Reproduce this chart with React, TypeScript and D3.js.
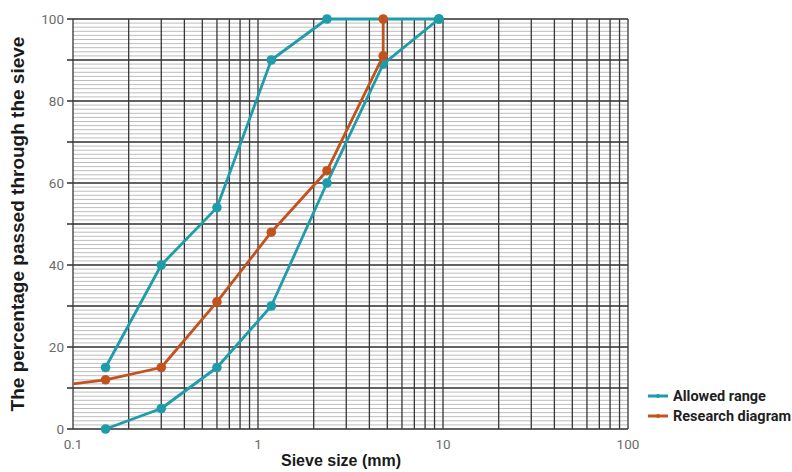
import React, { useEffect, useRef } from 'react';
import * as d3 from 'd3';

// sieve sizes (mm) and percentages passed
const upperSizes = [0.15, 0.3, 0.6, 1.18, 2.36, 9.5];
const upperPassed = [15, 40, 54, 90, 100, 100];
const lowerSizes = [0.15, 0.3, 0.6, 1.18, 2.36, 4.75, 9.5];
const lowerPassed = [0, 5, 15, 30, 60, 89, 100];
const researchSizes = [0.1, 0.15, 0.3, 0.6, 1.18, 2.36, 4.75, 4.75];
const researchPassed = [11, 12, 15, 31, 48, 63, 91, 100];
const researchMarked = [false, true, true, true, true, true, true, true];

const xTickLabels = [0.1, 1, 10, 100];
const yTickLabels = [0, 20, 40, 60, 80, 100];
const legendLabels = ['Allowed range', 'Research diagram'];

const TEAL = '#1e9caa';
const RUST = '#c2521e';

const W = 792;
const H = 472;

export default function App() {
  const svgRef = useRef<SVGSVGElement>(null);

  useEffect(() => {
    if (!svgRef.current) return;
    const svg = d3.select(svgRef.current);
    svg.selectAll('*').remove();

    const margin = { top: 19, right: 164, bottom: 43, left: 73 };
    const innerW = W - margin.left - margin.right;
    const innerH = H - margin.top - margin.bottom;

    const x = d3.scaleLog().domain([0.1, 100]).range([0, innerW]);
    const y = d3.scaleLinear().domain([0, 100]).range([innerH, 0]);

    const g = svg.append('g').attr('transform', `translate(${margin.left},${margin.top})`);

    // minor horizontal grid, every 1 %
    const minorY = d3.range(0, 101, 1).filter(v => v % 10 !== 0);
    g.selectAll('.minor-y')
      .data(minorY)
      .enter()
      .append('line')
      .attr('x1', 0)
      .attr('x2', innerW)
      .attr('y1', d => y(d))
      .attr('y2', d => y(d))
      .style('stroke', '#bdbdbd')
      .style('stroke-width', 1);

    // major horizontal grid, every 10 %
    const majorY = d3.range(0, 101, 10);
    g.selectAll('.major-y')
      .data(majorY)
      .enter()
      .append('line')
      .attr('x1', -6)
      .attr('x2', innerW)
      .attr('y1', d => y(d))
      .attr('y2', d => y(d))
      .style('stroke', '#2e2e2e')
      .style('stroke-width', 1.3);

    // log vertical grid
    const verticals = x.ticks();
    g.selectAll('.grid-x')
      .data(verticals)
      .enter()
      .append('line')
      .attr('x1', d => x(d))
      .attr('x2', d => x(d))
      .attr('y1', 0)
      .attr('y2', innerH)
      .style('stroke', '#363636')
      .style('stroke-width', 1.3);

    // y tick labels
    g.selectAll('.y-label')
      .data(yTickLabels)
      .enter()
      .append('text')
      .attr('x', -9)
      .attr('y', d => y(d))
      .attr('dy', '0.35em')
      .attr('text-anchor', 'end')
      .style('fill', '#6b6b6b')
      .style('font-family', 'Roboto, Arial, sans-serif')
      .style('font-size', '13.5px')
      .text(d => d);

    // x tick labels
    g.selectAll('.x-label')
      .data(xTickLabels)
      .enter()
      .append('text')
      .attr('x', d => x(d))
      .attr('y', innerH + 20)
      .attr('text-anchor', 'middle')
      .style('fill', '#6b6b6b')
      .style('font-family', 'Roboto, Arial, sans-serif')
      .style('font-size', '13.5px')
      .text(d => d);

    const line = d3.line<[number, number]>()
      .x(d => x(d[0]))
      .y(d => y(d[1]));

    const series = [
      { pts: upperSizes.map((s, i) => [s, upperPassed[i]] as [number, number]), color: TEAL, marked: upperSizes.map(() => true) },
      { pts: lowerSizes.map((s, i) => [s, lowerPassed[i]] as [number, number]), color: TEAL, marked: lowerSizes.map(() => true) },
      { pts: researchSizes.map((s, i) => [s, researchPassed[i]] as [number, number]), color: RUST, marked: researchMarked },
    ];

    series.forEach(s => {
      g.append('path')
        .datum(s.pts)
        .attr('d', line)
        .style('fill', 'none')
        .style('stroke', s.color)
        .style('stroke-width', 2.8)
        .style('stroke-linejoin', 'round');
      g.selectAll(null)
        .data(s.pts.filter((_, i) => s.marked[i]))
        .enter()
        .append('circle')
        .attr('cx', d => x(d[0]))
        .attr('cy', d => y(d[1]))
        .attr('r', 4.8)
        .style('fill', s.color);
    });

    // axis titles
    svg.append('text')
      .attr('transform', `translate(24,${margin.top + innerH / 2}) rotate(-90)`)
      .attr('text-anchor', 'middle')
      .style('font-family', 'Arial, "Liberation Sans", sans-serif')
      .style('font-weight', 'bold')
      .style('font-size', '19px')
      .style('fill', '#1a1a1a')
      .text('The percentage passed through the sieve');

    svg.append('text')
      .attr('x', 341)
      .attr('y', 466)
      .attr('text-anchor', 'middle')
      .style('font-family', 'Arial, "Liberation Sans", sans-serif')
      .style('font-weight', 'bold')
      .style('font-size', '16px')
      .style('fill', '#1a1a1a')
      .text('Sieve size (mm)');

    // legend
    const legend = svg.append('g').attr('transform', 'translate(648,396)');
    legendLabels.forEach((label, i) => {
      const color = i === 0 ? TEAL : RUST;
      const row = legend.append('g').attr('transform', `translate(0,${i * 20})`);
      row.append('line')
        .attr('x1', 0)
        .attr('x2', 20)
        .attr('y1', 0)
        .attr('y2', 0)
        .style('stroke', color)
        .style('stroke-width', 3);
      row.append('circle').attr('cx', 10).attr('cy', 0).attr('r', 2).style('fill', color);
      row.append('text')
        .attr('x', 25)
        .attr('y', 0)
        .attr('dy', '0.35em')
        .style('font-family', 'Roboto, Arial, sans-serif')
        .style('font-weight', 'bold')
        .style('font-size', '14.5px')
        .style('fill', '#1f1f1f')
        .text(label);
    });
  }, []);

  return (
    <svg
      ref={svgRef}
      width={W}
      height={H}
      style={{ position: 'absolute', left: 0, top: 0, background: '#fff' }}
    />
  );
}
